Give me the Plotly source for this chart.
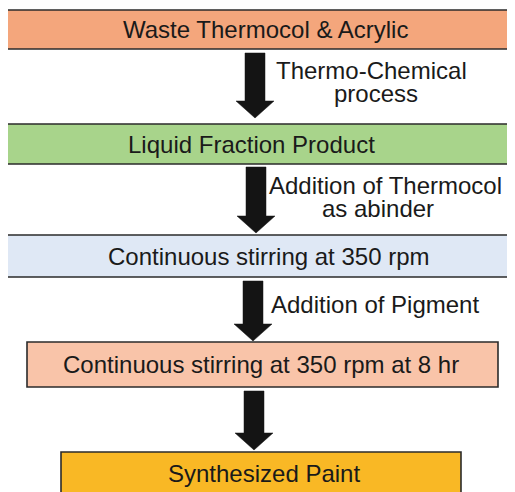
import plotly.graph_objects as go

# ---- data ----
box_labels = [
    "Waste Thermocol & Acrylic",
    "Liquid Fraction Product",
    "Continuous stirring at 350 rpm",
    "Continuous stirring at 350 rpm at 8 hr",
    "Synthesized Paint",
]
box_colors = ["#F4A67C", "#A8D48B", "#DFE8F5", "#F9C4A9", "#F9B825"]
arrow_labels = [
    ["Thermo-Chemical", "process"],
    ["Addition of Thermocol", "as abinder"],
    ["Addition of Pigment"],
    [],
]

# ---- layout geometry (pixels in the screenshot) ----
W, H = 515, 492
OFF = 8  # browser body margin
box_x0 = [7, 7, 7, 27, 61]
box_x1 = [514, 514, 514, 498, 461]
box_y0 = [10, 124, 235, 342, 452]
box_y1 = [49, 164, 277, 387, 510]
box_tx = [265, 251.5, 269, 261, 264]
box_ty = [29, 144, 256, 364, 473]
arrow_cx = [255, 256, 253, 254]
arrow_top = [53, 167, 281, 391]
arrow_tip = [118, 233, 341, 450]
label_x = [[371.5, 376], [385.5, 378], [375], []]
label_y = [[70, 93], [185, 208], [304], []]

FONT = dict(family="Liberation Sans, Arial", size=24, color="#1a1a1a")

fig = go.Figure()
fig.add_trace(go.Scatter(x=[OFF, W + OFF], y=[OFF, H + OFF], mode="markers",
                         marker=dict(opacity=0), hoverinfo="skip", showlegend=False))

shapes = [dict(type="line", x0=0, x1=514, y0=6.5, y1=6.5,
               line=dict(color="#F7CDB6", width=1.5))]
annotations = []
for i, lab in enumerate(box_labels):
    shapes.append(dict(type="rect", x0=box_x0[i], x1=box_x1[i], y0=box_y0[i], y1=box_y1[i],
                       fillcolor=box_colors[i], line=dict(color="#2b2b2b", width=1.6)))
    annotations.append(dict(x=box_tx[i], y=box_ty[i], text=lab, showarrow=False,
                            xref="x", yref="y", font=FONT))

sw, hw, hl = 10, 19, 17
for i in range(4):
    c, t, b = arrow_cx[i], arrow_top[i], arrow_tip[i]
    hb = b - hl
    path = (f"M {c-sw},{t} L {c+sw},{t} L {c+sw},{hb} L {c+hw},{hb} L {c},{b} "
            f"L {c-hw},{hb} L {c-sw},{hb} Z")
    shapes.append(dict(type="path", path=path, fillcolor="#141414",
                       line=dict(color="#141414", width=0.5)))
    for j, txt in enumerate(arrow_labels[i]):
        annotations.append(dict(x=label_x[i][j], y=label_y[i][j], text=txt,
                                showarrow=False, xref="x", yref="y", font=FONT))

fig.update_layout(
    width=W, height=H, margin=dict(l=0, r=0, t=0, b=0),
    paper_bgcolor="white", plot_bgcolor="white",
    xaxis=dict(range=[OFF, W + OFF], visible=False, fixedrange=True),
    yaxis=dict(range=[H + OFF, OFF], visible=False, fixedrange=True),
    shapes=shapes, annotations=annotations, showlegend=False,
)
fig.write_html("out.html")
